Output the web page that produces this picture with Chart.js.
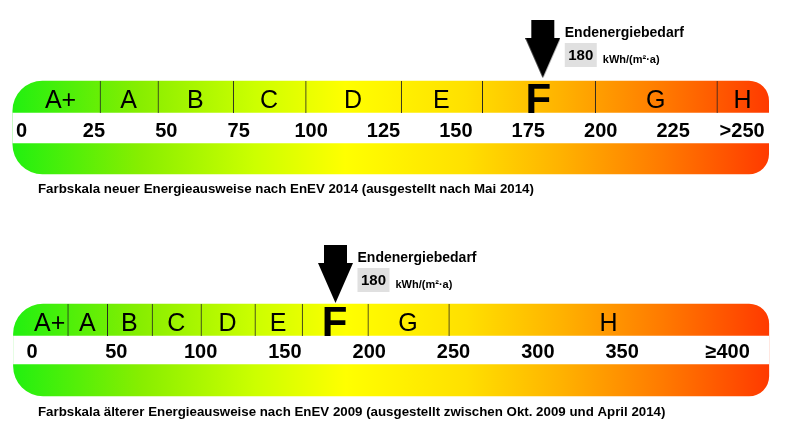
<!DOCTYPE html>
<html><head><meta charset="utf-8">
<script src="https://cdn.jsdelivr.net/npm/chart.js@4.4.1/dist/chart.umd.min.js"></script>
<style>
html,body{margin:0;padding:0;background:#fff;}
#wrap{position:relative;width:785px;height:442px;overflow:hidden;background:#fff;}
canvas{position:absolute;left:0;}
</style></head><body>
<div id="wrap">
<canvas id="c2014" width="785" height="223" style="top:0px"></canvas>
<canvas id="c2009" width="785" height="219" style="top:223px"></canvas>
</div>
<script>
// ---------- DATA: EnEV 2014 scale ----------
const classes2014 = ['A+','A','B','C','D','E','F','G','H'];
const bounds2014 = [0, 27, 47, 73, 98, 131, 159, 198, 240, 258];   // class borders (kWh/(m²·a))
const barRange2014 = [-3, 258];                                     // extent of the colour bar
const tickValues2014 = [0, 25, 50, 75, 100, 125, 150, 175, 200, 225, 250];
const tickLabels2014 = ['0','25','50','75','100','125','150','175','200','225','>250'];
const demand2014 = 180;
const caption2014 = 'Farbskala neuer Energieausweise nach EnEV 2014 (ausgestellt nach Mai 2014)';

// ---------- DATA: EnEV 2009 scale ----------
const classes2009 = ['A+','A','B','C','D','E','F','G','H'];
const bounds2009 = [0, 21, 44.5, 71, 100, 132, 160, 199, 247, 437];
const barRange2009 = [-11, 437];
const tickValues2009 = [0, 50, 100, 150, 200, 250, 300, 350, 400];
const tickLabels2009 = ['0','50','100','150','200','250','300','350','\u2265400'];
const demand2009 = 180;
const caption2009 = 'Farbskala \u00e4lterer Energieausweise nach EnEV 2009 (ausgestellt zwischen Okt. 2009 und April 2014)';

const annotTitle = 'Endenergiebedarf';
const unitLabel = 'kWh/(m\u00b2\u00b7a)';

// ---------- STYLE ----------
const FONT = '"Liberation Sans", Arial, Helvetica, sans-serif';
const gradientStops = [[0,'#22f010'],[0.17,'#88ee00'],[0.32,'#ccff00'],[0.44,'#ffff00'],
                       [0.6,'#ffe000'],[0.72,'#ffb400'],[0.86,'#ff7a00'],[1,'#ff3a00']];

function makeArrow() {
  const c = document.createElement('canvas');
  c.width = 35; c.height = 58;
  const g = c.getContext('2d');
  g.fillStyle = '#000';
  g.beginPath();
  g.moveTo(6,0); g.lineTo(29,0); g.lineTo(29,18); g.lineTo(35,18);
  g.lineTo(17.5,58); g.lineTo(0,18); g.lineTo(6,18); g.closePath();
  g.fill();
  return c;
}
const arrowImg = makeArrow();

function buildPanel(canvasId, P) {
  const H = P.height;
  const gradient = (c) => {
    const chart = c.chart;
    if (!chart.chartArea) return '#ffff00';
    const xs = chart.scales.x;
    const x0 = xs.getPixelForValue(P.barRange[0]), x1 = xs.getPixelForValue(P.barRange[1]);
    const g = chart.ctx.createLinearGradient(x0, 0, x1, 0);
    gradientStops.forEach(s => g.addColorStop(s[0], s[1]));
    return g;
  };
  const classData = P.classes.map((c, i) => ({x: [P.bounds[i], P.bounds[i+1]], y: P.bandY}));

  const textPlugin = {
    id: 'panelTexts',
    afterDatasetsDraw(chart) {
      const ctx = chart.ctx, xs = chart.scales.x;
      ctx.save();
      ctx.fillStyle = '#000';
      const meta = chart.getDatasetMeta(2);
      meta.data.forEach((el, i) => {
        const cx = (el.x + el.base) / 2;
        const active = P.demand >= P.bounds[i] && P.demand < P.bounds[i+1];
        ctx.textAlign = 'center'; ctx.textBaseline = 'alphabetic';
        if (active) { ctx.font = 'bold 42px ' + FONT; ctx.fillText(P.classes[i], cx, el.y + 16); }
        else { ctx.font = '25px ' + FONT; ctx.fillText(P.classes[i], cx, el.y + 11); }
      });
      ctx.font = 'bold 20px ' + FONT;
      P.tickValues.forEach((v, i) => {
        if (i === P.tickValues.length - 1) {
          ctx.textAlign = 'right';
          ctx.fillText(P.tickLabels[i], xs.getPixelForValue(P.barRange[1]) - P.endPad, P.tickBase);
        } else {
          ctx.textAlign = 'center';
          ctx.fillText(P.tickLabels[i], xs.getPixelForValue(v), P.tickBase);
        }
      });
      ctx.textAlign = 'left';
      ctx.font = 'bold 13.3px ' + FONT;
      ctx.fillText(P.caption, 38, P.captionBase);
      const a = chart.getDatasetMeta(3).data[0];
      const tipX = a.x, top = a.y - 29;
      ctx.font = 'bold 14px ' + FONT;
      ctx.fillText(annotTitle, tipX + 22, top + 17);
      ctx.fillStyle = '#e0e0e0';
      ctx.fillRect(tipX + 22, top + 23, 32, 24);
      ctx.fillStyle = '#000';
      ctx.font = 'bold 15px ' + FONT;
      ctx.textAlign = 'center';
      ctx.fillText(String(P.demand), tipX + 38, top + 40);
      ctx.textAlign = 'left';
      ctx.font = 'bold 11px ' + FONT;
      ctx.fillText(unitLabel, tipX + 60, top + 43);
      ctx.restore();
    }
  };

  return new Chart(document.getElementById(canvasId), {
    type: 'bar',
    data: {
      datasets: [
        { label: 'bar', data: [{x: P.barRange, y: P.pillY}], backgroundColor: gradient,
          barThickness: P.pillH, grouped: false, borderSkipped: false, borderWidth: 0,
          borderRadius: {topLeft: 30, bottomLeft: 30, topRight: 20, bottomRight: 20}, order: 4 },
        { label: 'strip', data: [{x: P.barRange, y: P.stripY}], backgroundColor: '#ffffff',
          barThickness: P.stripH, grouped: false, borderSkipped: false, borderWidth: 0, order: 3 },
        { label: 'classes', data: classData, backgroundColor: 'rgba(0,0,0,0)',
          barThickness: P.bandH, grouped: false, borderSkipped: false, inflateAmount: 0,
          borderColor: '#222222',
          borderWidth: (c) => c.dataIndex === 0 ? 0 : {left: 1, right: 0, top: 0, bottom: 0},
          order: 2 },
        { type: 'scatter', label: 'demand', data: [{x: P.demand, y: P.arrowY}],
          pointStyle: arrowImg, pointRadius: 10, order: 1 }
      ]
    },
    options: {
      indexAxis: 'y',
      responsive: false, animation: false, devicePixelRatio: 1,
      layout: {padding: 0, autoPadding: false},
      events: [],
      scales: {
        x: {type: 'linear', display: false, min: P.xMin, max: P.xMax, offset: false},
        y: {type: 'linear', display: false, min: 0, max: H, reverse: true, offset: false}
      },
      plugins: {legend: {display: false}, tooltip: {enabled: false}}
    },
    plugins: [textPlugin]
  });
}

buildPanel('c2014', {
  height: 223, classes: classes2014, bounds: bounds2014, barRange: barRange2014,
  tickValues: tickValues2014, tickLabels: tickLabels2014, demand: demand2014, caption: caption2014,
  xMin: -7.42, xMax: 263.64,
  pillY: 127.5, pillH: 93, stripY: 128, stripH: 30, bandY: 97, bandH: 32, arrowY: 49,
  tickBase: 137, captionBase: 193, endPad: 4
});
buildPanel('c2009', {
  height: 219, classes: classes2009, bounds: bounds2009, barRange: barRange2009,
  tickValues: tickValues2009, tickLabels: tickLabels2009, demand: demand2009, caption: caption2009,
  xMin: -18.98, xMax: 446.6,
  pillY: 127, pillH: 92, stripY: 127, stripH: 28, bandY: 97, bandH: 32, arrowY: 51,
  tickBase: 135, captionBase: 193, endPad: 19
});
</script>
</body></html>
